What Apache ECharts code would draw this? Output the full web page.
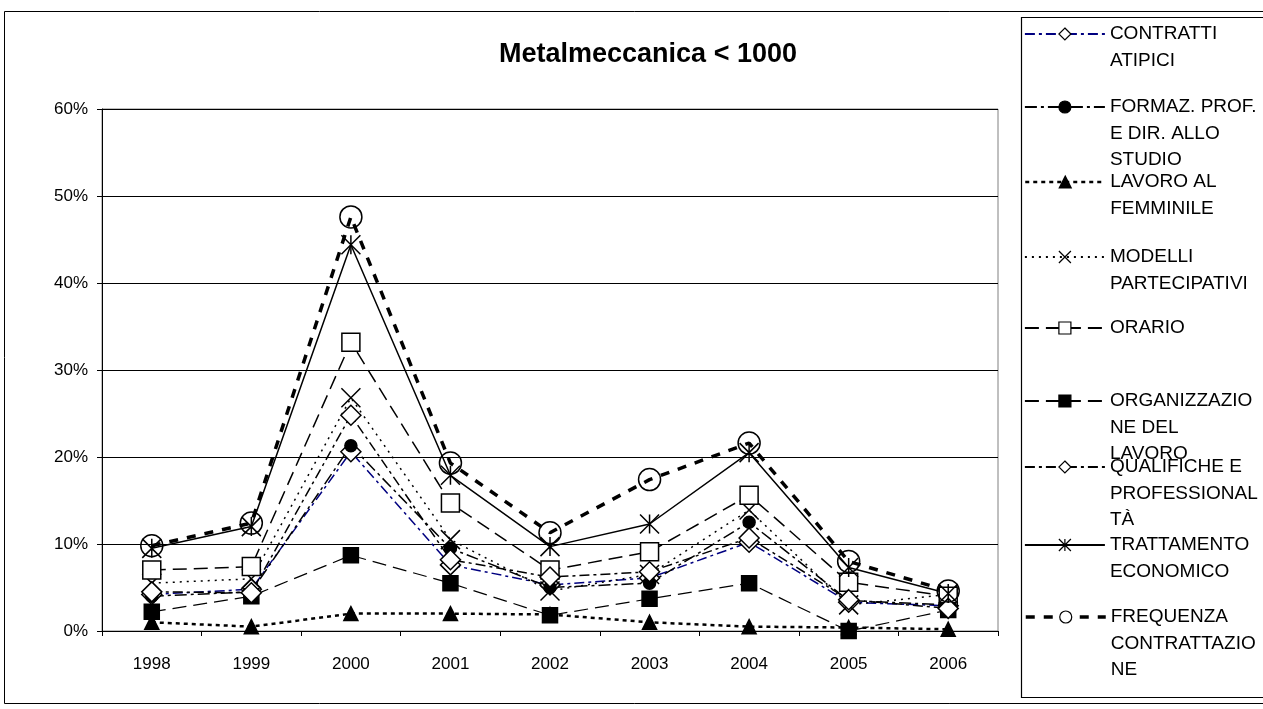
<!DOCTYPE html>
<html>
<head>
<meta charset="utf-8">
<title>Metalmeccanica &lt; 1000</title>
<script src="https://cdn.jsdelivr.net/npm/echarts@6/dist/echarts.min.js"></script>
<style>
  html, body { margin: 0; padding: 0; background: #fff; }
  #chart { width: 1263px; height: 709px; }
</style>
</head>
<body>
<div id="chart"></div>
<script>
// Years on the category axis
const years = ['1998', '1999', '2000', '2001', '2002', '2003', '2004', '2005', '2006'];

// Share of agreements per topic (%)
const contrattiAtipici      = [4.2, 4.8, 20.6, 7.6, 5.3, 6.1, 10.2, 3.3, 2.9];
const formazProf            = [4.0, 4.5, 21.3, 9.5, 5.0, 5.5, 12.5, 3.5, 3.0];
const lavoroFemminile       = [1.0, 0.5, 2.0, 2.0, 1.9, 1.0, 0.5, 0.4, 0.2];
const modelliPartecipativi  = [5.5, 6.0, 26.8, 10.5, 4.6, 6.5, 13.9, 3.0, 4.2];
const orario                = [7.0, 7.4, 33.2, 14.7, 7.0, 9.1, 15.6, 5.6, 4.0];
const organizzazioneLavoro  = [2.2, 4.0, 8.7, 5.5, 1.8, 3.7, 5.5, 0.0, 2.4];
const qualifiche            = [4.5, 4.4, 24.8, 8.2, 6.2, 6.8, 10.7, 3.6, 2.6];
const trattamentoEconomico  = [9.5, 12.0, 44.4, 17.9, 9.7, 12.3, 20.5, 7.3, 4.3];
const frequenzaContrattaz   = [9.8, 12.4, 47.6, 19.3, 11.3, 17.4, 21.6, 8.0, 4.6];

// Series names and their wrapped legend labels
const seriesNames = [
  'CONTRATTI ATIPICI',
  'FORMAZ. PROF. E DIR. ALLO STUDIO',
  'LAVORO AL FEMMINILE',
  'MODELLI PARTECIPATIVI',
  'ORARIO',
  'ORGANIZZAZIONE DEL LAVORO',
  'QUALIFICHE E PROFESSIONALITÀ',
  'TRATTAMENTO ECONOMICO',
  'FREQUENZA CONTRATTAZIONE'
];
const legendLabels = [
  'CONTRATTI\nATIPICI',
  'FORMAZ. PROF.\nE DIR. ALLO\nSTUDIO',
  'LAVORO AL\nFEMMINILE',
  'MODELLI\nPARTECIPATIVI',
  'ORARIO',
  'ORGANIZZAZIO\nNE DEL\nLAVORO',
  'QUALIFICHE E\nPROFESSIONAL\nTÀ',
  'TRATTAMENTO\nECONOMICO',
  'FREQUENZA\nCONTRATTAZIO\nNE'
];
const yTicks = [0, 10, 20, 30, 40, 50, 60];

const seriesData = [
  contrattiAtipici, formazProf, lavoroFemminile, modelliPartecipativi, orario,
  organizzazioneLavoro, qualifiche, trattamentoEconomico, frequenzaContrattaz
];

// Marker shapes
const X_MARK = 'path://M0,0L10,10M10,0L0,10';
const STAR_MARK = 'path://M0,0L10,10M10,0L0,10M5,0L5,10';

// Visual style of each series: line colour/dash, marker
const styles = [
  { line: '#000080', width: 1.5, dash: [10, 4, 3, 4], symbol: 'diamond', size: 20, fill: '#fff', border: '#000' },
  { line: '#000', width: 1.5, dash: [12, 4, 3, 4], symbol: 'circle', size: 12, fill: '#000', border: '#000' },
  { line: '#000', width: 2.5, dash: [4, 4], symbol: 'triangle', size: 14, fill: '#000', border: '#000' },
  { line: '#000', width: 1.5, dash: [2, 5], symbol: X_MARK, size: 19, fill: '#000', border: '#000' },
  { line: '#000', width: 1.5, dash: [14, 7], symbol: 'rect', size: 18, fill: '#fff', border: '#000' },
  { line: '#000', width: 1.2, dash: [14, 7], symbol: 'rect', size: 15, fill: '#000', border: '#000' },
  { line: '#000', width: 1.5, dash: [10, 4, 3, 4], symbol: 'diamond', size: 20, fill: '#fff', border: '#000' },
  { line: '#000', width: 1.5, dash: 'solid', symbol: STAR_MARK, size: 19, fill: '#000', border: '#000' },
  { line: '#000', width: 3.5, dash: [9, 9], symbol: 'circle', size: 22, fill: 'rgba(255,255,255,0)', border: '#000' }
];

// Legend layout: first-line centre of each entry
const LEGEND_LEFT = 1024;
const LEGEND_LINE_H = 26.5;
const legendRows = [34, 107, 182, 257, 328, 401, 467, 545, 617];

const FONT = '"Liberation Sans", Arial, sans-serif';

const series = seriesNames.map((name, i) => {
  const s = styles[i];
  return {
    name: name,
    type: 'line',
    data: seriesData[i],
    symbol: s.symbol,
    symbolSize: s.size,
    showSymbol: true,
    showAllSymbol: true,
    clip: false,
    animation: false,
    lineStyle: { color: s.line, width: s.width, type: s.dash },
    itemStyle: { color: s.fill, borderColor: s.border, borderWidth: 1.5 },
    emphasis: { disabled: true }
  };
});

// One legend block per series; blank lines above the label keep the
// first text line level with the icon.
const legends = seriesNames.map((name, i) => {
  const lines = legendLabels[i].split('\n').length;
  const s = styles[i];
  const iconStyle = { borderWidth: 1.2 };
  // hollow circle icon is drawn over a white fill so the line stops at it
  if (s.symbol === 'circle' && s.fill !== '#000') iconStyle.color = '#fff';
  return {
    data: [name],
    orient: 'vertical',
    left: LEGEND_LEFT,
    top: legendRows[i] - (2 * lines - 1) * LEGEND_LINE_H / 2,
    padding: 0,
    itemWidth: 80,
    itemHeight: 15,
    selectedMode: false,
    formatter: () => '\n'.repeat(lines - 1) + legendLabels[i],
    lineStyle: { width: Math.max(1.8, s.width) },
    itemStyle: iconStyle,
    textStyle: {
      fontFamily: FONT,
      fontSize: 19,
      color: '#000',
      lineHeight: LEGEND_LINE_H,
      backgroundColor: 'rgba(0,0,0,0)'
    }
  };
});

const chart = echarts.init(document.getElementById('chart'), null, { renderer: 'canvas' });
chart.setOption({
  backgroundColor: '#fff',
  animation: false,
  title: {
    text: 'Metalmeccanica < 1000',
    left: 643,
    textAlign: 'center',
    top: 36,
    textStyle: { fontFamily: FONT, fontSize: 27, fontWeight: 'bold', color: '#000' }
  },
  graphic: [
    {
      type: 'rect', silent: true, z: -1,
      shape: { x: 4.5, y: 11.5, width: 1300, height: 692 },
      style: { fill: 'none', stroke: '#000', lineWidth: 1 }
    },
    {
      type: 'rect', silent: true, z: -1,
      shape: { x: 1021.5, y: 17.5, width: 300, height: 680 },
      style: { fill: 'none', stroke: '#000', lineWidth: 1.2 }
    }
  ],
  legend: legends,
  grid: {
    left: 102, right: 265, top: 109, bottom: 78,
    show: true, borderColor: '#808080', borderWidth: 1, backgroundColor: 'transparent'
  },
  xAxis: {
    type: 'category',
    data: years,
    boundaryGap: true,
    axisLine: { show: true, lineStyle: { color: '#000', width: 1 } },
    axisTick: { show: true, interval: 0, alignWithLabel: false, length: 5, lineStyle: { color: '#000' } },
    axisLabel: { fontFamily: FONT, fontSize: 17, color: '#000', margin: 25, interval: 0 },
    splitLine: { show: false }
  },
  yAxis: {
    type: 'value',
    min: yTicks[0],
    max: yTicks[yTicks.length - 1],
    interval: 10,
    axisLine: { show: true, lineStyle: { color: '#000', width: 1 } },
    axisTick: { show: true, length: 5, lineStyle: { color: '#000' } },
    axisLabel: { fontFamily: FONT, fontSize: 17, color: '#000', margin: 14, formatter: '{value}%' },
    splitLine: { show: true, lineStyle: { color: '#000', width: 1 } }
  },
  series: series
});
</script>
</body>
</html>
